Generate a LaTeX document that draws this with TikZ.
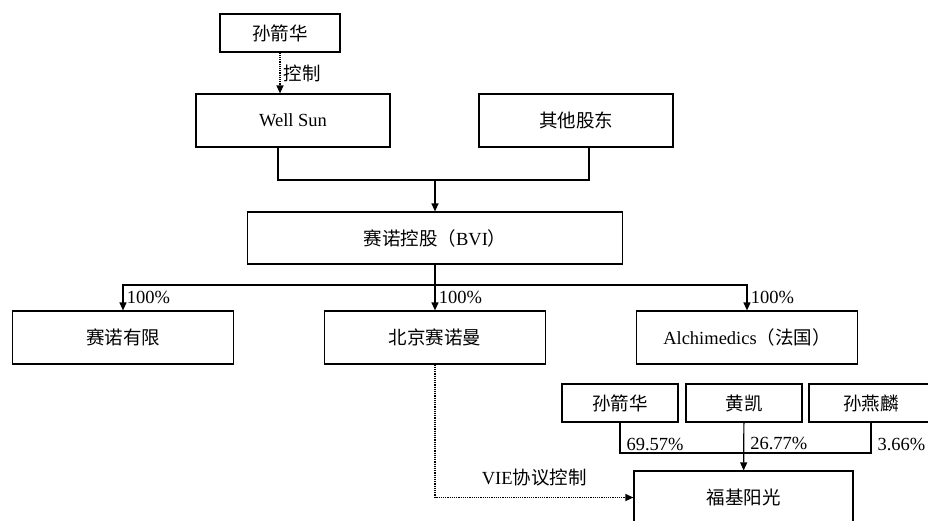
\documentclass[tikz,border=0pt]{standalone}
\usepackage{fontspec}
\setmainfont{Liberation Serif}
\newfontfamily\cjk{Noto Sans CJK SC}
\usetikzlibrary{arrows.meta}

\begin{document}
\begin{tikzpicture}[x=1pt, y=-1pt, line width=1.2pt,
    every node/.style={font=\fontsize{18.5}{21}\selectfont},
    box/.style={draw, rectangle, inner sep=0pt, minimum width=221pt, minimum height=53pt},
    smallbox/.style={draw, rectangle, inner sep=0pt, minimum width=116pt, minimum height=38pt},
    link/.style={-{Triangle[length=8pt, width=7pt]}},
    share/.style={anchor=south west, inner sep=2pt, xshift=4pt}]

    \useasboundingbox (0,0) rectangle (928,520);
    \clip (0,0) rectangle (928,520);

    % Draw the shareholders
    \node[smallbox, minimum width=120pt] (sun) at (280,33) {\cjk 孙箭华};
    \node[box, minimum width=194pt] (wellsun) at (293,120.5) {Well Sun};
    \node[box, minimum width=194pt] (others) at (576,120.5) {\cjk 其他股东};

    % Draw the holding company
    \node[box, minimum width=375pt, minimum height=52pt] (bvi) at (435,238) {{\cjk 赛诺控股（}BVI{\cjk ）}};

    % Draw the subsidiaries
    \node[box] (youxian) at (123,337.5) {\cjk 赛诺有限};
    \node[box] (beijing) at (435,337.5) {\cjk 北京赛诺曼};
    \node[box] (alch) at (747,337.5) {Alchimedics{\cjk （法国）}};

    % Draw the owners of Fuji
    \node[smallbox] (p1) at (620,403) {\cjk 孙箭华};
    \node[smallbox] (huang) at (744,403) {\cjk 黄凯};
    \node[smallbox, minimum width=124pt] (p3) at (871,403) {\cjk 孙燕麟};
    \node[box, minimum width=219pt] (fuji) at (743.5,497.5) {\cjk 福基阳光};

    % Draw connections
    \coordinate (join) at (435,180);
    \coordinate (split) at (435,285);
    \coordinate (merge) at (744,453);
    \draw[link, densely dotted] (sun) -- node[right] {\cjk 控制} (sun |- wellsun.north);
    \draw ([xshift=-15pt]wellsun.south) |- (join) -| ([xshift=13pt]others.south);
    \draw[link] (join) -- (bvi);
    \draw (bvi) -- (split);
    \draw[link] (split) -| node[pos=0.75, right] {100\%} (youxian);
    \draw[link] (split) -- node[right] {100\%} (beijing);
    \draw[link] (split) -| node[pos=0.75, right] {100\%} (alch);
    \draw (p1) |- node[pos=0.5, share] {69.57\%} (merge) -| node[pos=0.5, share] {3.66\%} (p3);
    \draw[link] (huang) -- node[pos=0.63, share] {26.77\%} (fuji);
    \draw[link, densely dotted] (beijing) |- node[pos=0.75, above, yshift=7pt] {VIE{\cjk 协议控制}} (fuji);

\end{tikzpicture}
\end{document}
